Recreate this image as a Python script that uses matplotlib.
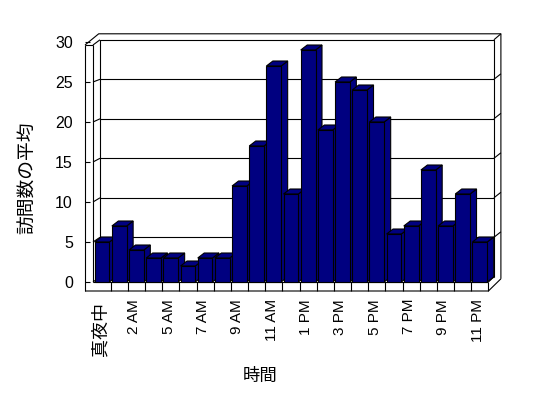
import matplotlib
matplotlib.use("Agg")
import matplotlib.pyplot as plt
from matplotlib.patches import Polygon, Rectangle

# hourly averages (hour 4 AM has no data in the source chart)
hours = ['真夜中', '1 AM', '2 AM', '3 AM', '5 AM', '6 AM', '7 AM', '8 AM', '9 AM',
         '10 AM', '11 AM', '12 PM', '1 PM', '2 PM', '3 PM', '4 PM', '5 PM', '6 PM',
         '7 PM', '8 PM', '9 PM', '10 PM', '11 PM']
visits = [5, 7, 4, 3, 3, 2, 3, 3, 12, 17, 27, 11, 29, 19, 25, 24, 20, 6, 7, 14, 7, 11, 5]
yticks = [0, 5, 10, 15, 20, 25, 30]

NAVY = '#000080'
LW = 0.8
W, H = 548, 398

fig = plt.figure(figsize=(W / 100, H / 100), dpi=100)

# pixel-space layer for the walls / floor of the fake 3D box
deco = fig.add_axes([0, 0, 1, 1])
deco.set_xlim(0, W)
deco.set_ylim(H, 0)
deco.axis('off')

# front plane: x from 93.5 to 488.4 px, value 0 at y=282 px, 8 px per unit
x0, x1 = 93.5, 488.4
ybase, ppu = 282.0, 8.0
n = len(visits)
cw = (x1 - x0) / n
ddx, ddy = 7.0, 5.5   # one depth step in pixels


def line(xs, ys):
    deco.plot(xs, ys, color='black', lw=LW, solid_capstyle='butt')


def front_y(v):
    return ybase - ppu * v


def back_y(v):
    return ybase - ddy + 0.3 - 7.9 * v


# back wall face + gridlines
bx0, bx1 = x0 + ddx - 0.5, x1 + ddx - 1.5
line([bx0, bx0, bx1, bx1], [back_y(0), back_y(30), back_y(30), back_y(0)])
for v in yticks[1:-1]:
    line([bx0, bx1], [back_y(v)] * 2)
    line([x0 - 0.5, bx0], [front_y(v), back_y(v)])
    line([bx1, bx1 + ddx], [back_y(v), back_y(v) - ddy])
# back wall thickness (outer frame)
top_out = back_y(30) - 6
line([85, 98.7, bx1 + ddx, bx1 + ddx], [45, top_out, top_out, back_y(0) + 2])
line([bx1, bx1 + ddx], [back_y(30), top_out])
# left wall front face
line([85, 85], [45, 291])
line([93, 93], [45, ybase])
line([85, 93], [45, 45])
line([93, bx0], [45, back_y(30)])
for v in yticks:
    line([85, 90], [front_y(v), front_y(v)])
    deco.text(73, front_y(v) + 2, str(v), ha='right', va='center',
              fontsize=11.5, family='Liberation Sans')
# floor
line([93, x1], [ybase, ybase])
line([bx0, bx1], [back_y(0), back_y(0)])
line([93, bx0], [ybase, back_y(0)])
line([x1, bx1], [ybase, back_y(0)])
line([85, x1, bx1 + ddx], [291, 291, back_y(0) + 2])
line([x1, x1], [ybase, 291])
for k in range(1, n):
    xb = x0 + k * cw
    line([xb, xb], [ybase, 291])

# bars in data space
ax = fig.add_axes([x0 / W, (H - ybase) / H, (x1 - x0) / W, ppu * 30 / H])
ax.set_xlim(-0.5, n - 0.5)
ax.set_ylim(0, 30)
ax.axis('off')
ax.patch.set_visible(False)
dx = 6.5 / cw
dy = 5.0 / ppu
bw = 0.86
for i, v in enumerate(visits):
    l, r = i - bw / 2, i + bw / 2
    z = 3 + i
    side = Polygon([(r, 0), (r + dx, dy), (r + dx, v + dy), (r, v)],
                   facecolor=NAVY, edgecolor='black', lw=LW, zorder=z)
    top = Polygon([(l, v), (l + dx, v + dy), (r + dx, v + dy), (r, v)],
                  facecolor=NAVY, edgecolor='black', lw=LW, zorder=z)
    ax.add_patch(side)
    ax.add_patch(top)
    ax.add_patch(Rectangle((l, 0), bw, v, facecolor=NAVY, edgecolor='black',
                           lw=LW, zorder=z + 0.5))
    for p in ax.patches[-3:]:
        p.set_clip_on(False)

# category labels, every other one
for i in range(0, n, 2):
    xc = x0 + (i + 0.5) * cw - 2
    if i == 0:
        deco.text(xc, 302, hours[i], rotation=90, ha='center', va='top',
                  fontsize=13, family=['Noto Sans CJK JP', 'DejaVu Sans'])
    else:
        deco.text(xc, 299, hours[i], rotation=90, ha='center', va='top',
                  fontsize=11, family='Liberation Sans')

deco.text(260, 376, '時間', ha='center', va='center', fontsize=12.5,
          family=['Noto Sans CJK JP', 'DejaVu Sans'])
deco.text(28, 178, '訪問数の平均', rotation=90, ha='center', va='center',
          fontsize=13.5, family=['Noto Sans CJK JP', 'DejaVu Sans'])

fig.savefig('out.png', dpi=100, facecolor='white')
